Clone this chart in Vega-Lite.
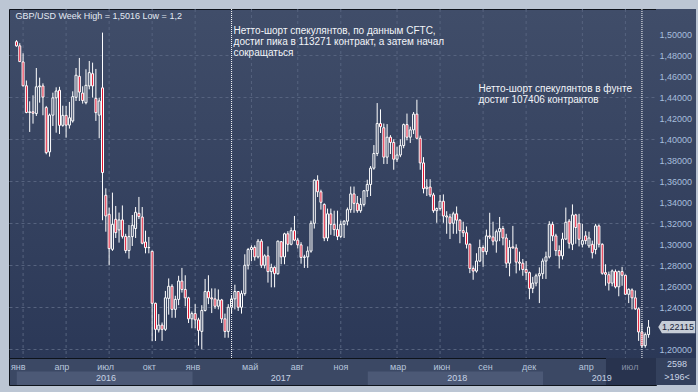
{
"$schema": "https://vega.github.io/schema/vega-lite/v6.json",
"background": "#bcc6d4",
"padding": {"left": 8, "top": 8, "right": 3, "bottom": 8},
"autosize": {"type": "pad"},
"config": {
  "font": "Liberation Sans",
  "locale": {"number": {"decimal": ",", "thousands": " ", "grouping": [3], "currency": ["", ""]}},
  "view": {"stroke": null},
  "axis": {"labelFont": "Liberation Sans"}
},
"datasets": {
  "candles": [
{"date":"2015-12-21","open":1.4930,"high":1.4945,"low":1.4882,"close":1.4890},
{"date":"2015-12-28","open":1.4890,"high":1.4915,"low":1.4737,"close":1.4740},
{"date":"2016-01-04","open":1.4737,"high":1.4819,"low":1.4502,"close":1.4510},
{"date":"2016-01-11","open":1.4510,"high":1.4560,"low":1.4248,"close":1.4255},
{"date":"2016-01-18","open":1.4255,"high":1.4362,"low":1.4070,"close":1.4262},
{"date":"2016-01-25","open":1.4262,"high":1.4419,"low":1.4149,"close":1.4248},
{"date":"2016-02-01","open":1.4245,"high":1.4679,"low":1.4222,"close":1.4500},
{"date":"2016-02-08","open":1.4500,"high":1.4587,"low":1.4349,"close":1.4508},
{"date":"2016-02-15","open":1.4508,"high":1.4533,"low":1.4229,"close":1.4402},
{"date":"2016-02-22","open":1.4302,"high":1.4318,"low":1.3857,"close":1.3873},
{"date":"2016-02-29","open":1.3880,"high":1.4245,"low":1.3835,"close":1.4230},
{"date":"2016-03-07","open":1.4230,"high":1.4444,"low":1.4127,"close":1.4395},
{"date":"2016-03-14","open":1.4395,"high":1.4495,"low":1.4063,"close":1.4460},
{"date":"2016-03-21","open":1.4467,"high":1.4500,"low":1.4050,"close":1.4133},
{"date":"2016-03-28","open":1.4133,"high":1.4320,"low":1.4120,"close":1.4228},
{"date":"2016-04-04","open":1.4228,"high":1.4317,"low":1.4016,"close":1.4135},
{"date":"2016-04-11","open":1.4135,"high":1.4356,"low":1.4102,"close":1.4205},
{"date":"2016-04-18","open":1.4175,"high":1.4457,"low":1.4159,"close":1.4406},
{"date":"2016-04-25","open":1.4400,"high":1.4679,"low":1.4365,"close":1.4610},
{"date":"2016-05-02","open":1.4600,"high":1.4775,"low":1.4365,"close":1.4450},
{"date":"2016-05-09","open":1.4440,"high":1.4505,"low":1.4340,"close":1.4370},
{"date":"2016-05-16","open":1.4349,"high":1.4667,"low":1.4333,"close":1.4514},
{"date":"2016-05-23","open":1.4508,"high":1.4746,"low":1.4476,"close":1.4635},
{"date":"2016-05-30","open":1.4625,"high":1.4730,"low":1.4397,"close":1.4508},
{"date":"2016-06-06","open":1.4390,"high":1.4670,"low":1.4175,"close":1.4254},
{"date":"2016-06-13","open":1.4230,"high":1.4396,"low":1.4010,"close":1.4365},
{"date":"2016-06-20","open":1.4490,"high":1.5016,"low":1.3229,"close":1.3683},
{"date":"2016-06-27","open":1.3467,"high":1.3533,"low":1.3120,"close":1.3270},
{"date":"2016-07-04","open":1.3286,"high":1.3349,"low":1.2800,"close":1.2959},
{"date":"2016-07-11","open":1.2952,"high":1.3492,"low":1.2937,"close":1.3190},
{"date":"2016-07-18","open":1.3238,"high":1.3365,"low":1.3060,"close":1.3111},
{"date":"2016-07-25","open":1.3137,"high":1.3302,"low":1.3016,"close":1.3232},
{"date":"2016-08-01","open":1.3232,"high":1.3370,"low":1.3055,"close":1.3075},
{"date":"2016-08-08","open":1.3075,"high":1.3100,"low":1.2915,"close":1.2940},
{"date":"2016-08-15","open":1.2940,"high":1.3184,"low":1.2863,"close":1.3073},
{"date":"2016-08-22","open":1.3073,"high":1.3279,"low":1.2984,"close":1.3181},
{"date":"2016-08-29","open":1.3150,"high":1.3355,"low":1.3060,"close":1.3305},
{"date":"2016-09-05","open":1.3295,"high":1.3451,"low":1.3240,"close":1.3264},
{"date":"2016-09-12","open":1.3260,"high":1.3355,"low":1.3000,"close":1.3010},
{"date":"2016-09-19","open":1.3022,"high":1.3130,"low":1.2914,"close":1.2968},
{"date":"2016-09-26","open":1.2968,"high":1.3070,"low":1.2914,"close":1.2970},
{"date":"2016-10-03","open":1.2933,"high":1.2940,"low":1.2079,"close":1.2438},
{"date":"2016-10-10","open":1.2438,"high":1.2444,"low":1.2079,"close":1.2190},
{"date":"2016-10-17","open":1.2185,"high":1.2335,"low":1.2160,"close":1.2230},
{"date":"2016-10-24","open":1.2230,"high":1.2255,"low":1.2080,"close":1.2190},
{"date":"2016-10-31","open":1.2190,"high":1.2556,"low":1.2175,"close":1.2490},
{"date":"2016-11-07","open":1.2485,"high":1.2675,"low":1.2330,"close":1.2600},
{"date":"2016-11-14","open":1.2600,"high":1.2620,"low":1.2300,"close":1.2380},
{"date":"2016-11-21","open":1.2380,"high":1.2510,"low":1.2300,"close":1.2475},
{"date":"2016-11-28","open":1.2475,"high":1.2700,"low":1.2420,"close":1.2650},
{"date":"2016-12-05","open":1.2650,"high":1.2775,"low":1.2540,"close":1.2570},
{"date":"2016-12-12","open":1.2570,"high":1.2705,"low":1.2410,"close":1.2490},
{"date":"2016-12-19","open":1.2490,"high":1.2500,"low":1.2250,"close":1.2290},
{"date":"2016-12-26","open":1.2290,"high":1.2360,"low":1.2200,"close":1.2340},
{"date":"2017-01-02","open":1.2340,"high":1.2430,"low":1.2200,"close":1.2280},
{"date":"2017-01-09","open":1.2280,"high":1.2300,"low":1.2035,"close":1.2180},
{"date":"2017-01-16","open":1.2170,"high":1.2420,"low":1.2000,"close":1.2370},
{"date":"2017-01-23","open":1.2370,"high":1.2670,"low":1.2360,"close":1.2550},
{"date":"2017-01-30","open":1.2550,"high":1.2705,"low":1.2430,"close":1.2490},
{"date":"2017-02-06","open":1.2490,"high":1.2580,"low":1.2345,"close":1.2480},
{"date":"2017-02-13","open":1.2480,"high":1.2580,"low":1.2385,"close":1.2410},
{"date":"2017-02-20","open":1.2410,"high":1.2570,"low":1.2380,"close":1.2470},
{"date":"2017-02-27","open":1.2470,"high":1.2480,"low":1.2250,"close":1.2290},
{"date":"2017-03-06","open":1.2290,"high":1.2340,"low":1.2110,"close":1.2170},
{"date":"2017-03-13","open":1.2170,"high":1.2430,"low":1.2110,"close":1.2400},
{"date":"2017-03-20","open":1.2400,"high":1.2510,"low":1.2340,"close":1.2480},
{"date":"2017-03-27","open":1.2480,"high":1.2615,"low":1.2380,"close":1.2550},
{"date":"2017-04-03","open":1.2550,"high":1.2555,"low":1.2365,"close":1.2400},
{"date":"2017-04-10","open":1.2400,"high":1.2560,"low":1.2340,"close":1.2530},
{"date":"2017-04-17","open":1.2530,"high":1.2905,"low":1.2510,"close":1.2800},
{"date":"2017-04-24","open":1.2800,"high":1.2965,"low":1.2760,"close":1.2950},
{"date":"2017-05-01","open":1.2950,"high":1.2990,"low":1.2840,"close":1.2970},
{"date":"2017-05-08","open":1.2970,"high":1.2990,"low":1.2845,"close":1.2880},
{"date":"2017-05-15","open":1.2880,"high":1.3050,"low":1.2865,"close":1.3030},
{"date":"2017-05-22","open":1.3030,"high":1.3050,"low":1.2775,"close":1.2800},
{"date":"2017-05-29","open":1.2800,"high":1.2905,"low":1.2770,"close":1.2890},
{"date":"2017-06-05","open":1.2890,"high":1.2980,"low":1.2635,"close":1.2740},
{"date":"2017-06-12","open":1.2740,"high":1.2815,"low":1.2590,"close":1.2780},
{"date":"2017-06-19","open":1.2780,"high":1.2790,"low":1.2590,"close":1.2720},
{"date":"2017-06-26","open":1.2720,"high":1.3035,"low":1.2710,"close":1.3030},
{"date":"2017-07-03","open":1.3025,"high":1.3030,"low":1.2810,"close":1.2880},
{"date":"2017-07-10","open":1.2880,"high":1.3110,"low":1.2810,"close":1.3100},
{"date":"2017-07-17","open":1.3100,"high":1.3125,"low":1.2930,"close":1.3000},
{"date":"2017-07-24","open":1.3000,"high":1.3160,"low":1.2990,"close":1.3130},
{"date":"2017-07-31","open":1.3130,"high":1.3270,"low":1.3030,"close":1.3040},
{"date":"2017-08-07","open":1.3040,"high":1.3060,"low":1.2960,"close":1.2995},
{"date":"2017-08-14","open":1.2995,"high":1.3020,"low":1.2815,"close":1.2875},
{"date":"2017-08-21","open":1.2875,"high":1.2900,"low":1.2775,"close":1.2880},
{"date":"2017-08-28","open":1.2880,"high":1.2980,"low":1.2775,"close":1.2935},
{"date":"2017-09-04","open":1.2935,"high":1.3225,"low":1.2920,"close":1.3200},
{"date":"2017-09-11","open":1.3200,"high":1.3620,"low":1.3150,"close":1.3610},
{"date":"2017-09-18","open":1.3610,"high":1.3657,"low":1.3450,"close":1.3500},
{"date":"2017-09-25","open":1.3500,"high":1.3520,"low":1.3330,"close":1.3400},
{"date":"2017-10-02","open":1.3380,"high":1.3390,"low":1.3030,"close":1.3060},
{"date":"2017-10-09","open":1.3060,"high":1.3340,"low":1.3030,"close":1.3290},
{"date":"2017-10-16","open":1.3290,"high":1.3340,"low":1.3090,"close":1.3190},
{"date":"2017-10-23","open":1.3190,"high":1.3320,"low":1.3080,"close":1.3140},
{"date":"2017-10-30","open":1.3140,"high":1.3320,"low":1.3040,"close":1.3075},
{"date":"2017-11-06","open":1.3075,"high":1.3225,"low":1.3060,"close":1.3190},
{"date":"2017-11-13","open":1.3190,"high":1.3230,"low":1.3060,"close":1.3220},
{"date":"2017-11-20","open":1.3220,"high":1.3350,"low":1.3180,"close":1.3330},
{"date":"2017-11-27","open":1.3330,"high":1.3550,"low":1.3300,"close":1.3480},
{"date":"2017-12-04","open":1.3480,"high":1.3550,"low":1.3300,"close":1.3390},
{"date":"2017-12-11","open":1.3390,"high":1.3460,"low":1.3300,"close":1.3320},
{"date":"2017-12-18","open":1.3320,"high":1.3440,"low":1.3300,"close":1.3380},
{"date":"2017-12-25","open":1.3380,"high":1.3515,"low":1.3360,"close":1.3510},
{"date":"2018-01-01","open":1.3510,"high":1.3615,"low":1.3450,"close":1.3570},
{"date":"2018-01-08","open":1.3570,"high":1.3745,"low":1.3460,"close":1.3725},
{"date":"2018-01-15","open":1.3725,"high":1.3945,"low":1.3710,"close":1.3865},
{"date":"2018-01-22","open":1.3865,"high":1.4345,"low":1.3840,"close":1.4150},
{"date":"2018-01-29","open":1.4150,"high":1.4285,"low":1.4060,"close":1.4120},
{"date":"2018-02-05","open":1.4110,"high":1.4150,"low":1.3765,"close":1.3830},
{"date":"2018-02-12","open":1.3830,"high":1.4145,"low":1.3765,"close":1.4020},
{"date":"2018-02-19","open":1.4020,"high":1.4040,"low":1.3860,"close":1.3970},
{"date":"2018-02-26","open":1.3970,"high":1.4000,"low":1.3710,"close":1.3810},
{"date":"2018-03-05","open":1.3810,"high":1.3930,"low":1.3785,"close":1.3850},
{"date":"2018-03-12","open":1.3850,"high":1.4000,"low":1.3830,"close":1.3940},
{"date":"2018-03-19","open":1.3940,"high":1.4150,"low":1.3915,"close":1.4140},
{"date":"2018-03-26","open":1.4140,"high":1.4245,"low":1.3990,"close":1.4020},
{"date":"2018-04-02","open":1.4020,"high":1.4120,"low":1.3965,"close":1.4090},
{"date":"2018-04-09","open":1.4090,"high":1.4260,"low":1.4050,"close":1.4240},
{"date":"2018-04-16","open":1.4240,"high":1.4377,"low":1.4000,"close":1.4010},
{"date":"2018-04-23","open":1.4010,"high":1.4035,"low":1.3710,"close":1.3775},
{"date":"2018-04-30","open":1.3775,"high":1.3830,"low":1.3485,"close":1.3530},
{"date":"2018-05-07","open":1.3530,"high":1.3620,"low":1.3460,"close":1.3545},
{"date":"2018-05-14","open":1.3545,"high":1.3620,"low":1.3450,"close":1.3470},
{"date":"2018-05-21","open":1.3470,"high":1.3490,"low":1.3300,"close":1.3320},
{"date":"2018-05-28","open":1.3320,"high":1.3350,"low":1.3205,"close":1.3340},
{"date":"2018-06-04","open":1.3340,"high":1.3470,"low":1.3320,"close":1.3410},
{"date":"2018-06-11","open":1.3410,"high":1.3475,"low":1.3205,"close":1.3270},
{"date":"2018-06-18","open":1.3270,"high":1.3315,"low":1.3100,"close":1.3260},
{"date":"2018-06-25","open":1.3260,"high":1.3290,"low":1.3050,"close":1.3200},
{"date":"2018-07-02","open":1.3200,"high":1.3310,"low":1.3100,"close":1.3290},
{"date":"2018-07-09","open":1.3290,"high":1.3360,"low":1.3100,"close":1.3230},
{"date":"2018-07-16","open":1.3230,"high":1.3240,"low":1.3010,"close":1.3130},
{"date":"2018-07-23","open":1.3130,"high":1.3215,"low":1.3070,"close":1.3110},
{"date":"2018-07-30","open":1.3110,"high":1.3170,"low":1.2960,"close":1.3000},
{"date":"2018-08-06","open":1.3000,"high":1.3010,"low":1.2725,"close":1.2770},
{"date":"2018-08-13","open":1.2770,"high":1.2790,"low":1.2662,"close":1.2745},
{"date":"2018-08-20","open":1.2745,"high":1.2915,"low":1.2730,"close":1.2840},
{"date":"2018-08-27","open":1.2840,"high":1.3045,"low":1.2830,"close":1.2970},
{"date":"2018-09-03","open":1.2970,"high":1.2990,"low":1.2785,"close":1.2930},
{"date":"2018-09-10","open":1.2930,"high":1.3140,"low":1.2900,"close":1.3080},
{"date":"2018-09-17","open":1.3080,"high":1.3300,"low":1.3050,"close":1.3070},
{"date":"2018-09-24","open":1.3070,"high":1.3215,"low":1.2990,"close":1.3030},
{"date":"2018-10-01","open":1.3030,"high":1.3140,"low":1.2920,"close":1.3120},
{"date":"2018-10-08","open":1.3120,"high":1.3260,"low":1.3030,"close":1.3150},
{"date":"2018-10-15","open":1.3150,"high":1.3175,"low":1.2990,"close":1.3060},
{"date":"2018-10-22","open":1.3060,"high":1.3100,"low":1.2775,"close":1.2820},
{"date":"2018-10-29","open":1.2820,"high":1.3040,"low":1.2695,"close":1.2970},
{"date":"2018-11-05","open":1.2975,"high":1.3175,"low":1.2960,"close":1.2965},
{"date":"2018-11-12","open":1.2965,"high":1.3000,"low":1.2723,"close":1.2830},
{"date":"2018-11-19","open":1.2830,"high":1.2930,"low":1.2750,"close":1.2820},
{"date":"2018-11-26","open":1.2820,"high":1.2860,"low":1.2700,"close":1.2760},
{"date":"2018-12-03","open":1.2760,"high":1.2840,"low":1.2660,"close":1.2730},
{"date":"2018-12-10","open":1.2730,"high":1.2740,"low":1.2477,"close":1.2580},
{"date":"2018-12-17","open":1.2580,"high":1.2690,"low":1.2535,"close":1.2630},
{"date":"2018-12-24","open":1.2630,"high":1.2720,"low":1.2600,"close":1.2700},
{"date":"2018-12-31","open":1.2700,"high":1.2780,"low":1.2440,"close":1.2720},
{"date":"2019-01-07","open":1.2720,"high":1.2865,"low":1.2670,"close":1.2840},
{"date":"2019-01-14","open":1.2840,"high":1.2930,"low":1.2670,"close":1.2880},
{"date":"2019-01-21","open":1.2880,"high":1.3220,"low":1.2865,"close":1.3190},
{"date":"2019-01-28","open":1.3190,"high":1.3215,"low":1.3030,"close":1.3080},
{"date":"2019-02-04","open":1.3080,"high":1.3100,"low":1.2890,"close":1.2940},
{"date":"2019-02-11","open":1.2940,"high":1.2990,"low":1.2770,"close":1.2890},
{"date":"2019-02-18","open":1.2890,"high":1.3110,"low":1.2855,"close":1.3050},
{"date":"2019-02-25","open":1.3050,"high":1.3350,"low":1.3040,"close":1.3210},
{"date":"2019-03-04","open":1.3220,"high":1.3240,"low":1.2960,"close":1.3010},
{"date":"2019-03-11","open":1.3000,"high":1.3380,"low":1.2945,"close":1.3280},
{"date":"2019-03-18","open":1.3280,"high":1.3290,"low":1.3005,"close":1.3160},
{"date":"2019-03-25","open":1.3200,"high":1.3290,"low":1.2980,"close":1.3048},
{"date":"2019-04-01","open":1.3000,"high":1.3195,"low":1.2970,"close":1.3035},
{"date":"2019-04-08","open":1.3080,"high":1.3125,"low":1.3000,"close":1.3035},
{"date":"2019-04-15","open":1.2985,"high":1.3120,"low":1.2965,"close":1.3060},
{"date":"2019-04-22","open":1.3000,"high":1.3035,"low":1.2865,"close":1.2920},
{"date":"2019-04-29","open":1.2950,"high":1.3195,"low":1.2905,"close":1.3175},
{"date":"2019-05-06","open":1.3175,"high":1.3190,"low":1.2970,"close":1.3000},
{"date":"2019-05-13","open":1.3000,"high":1.3010,"low":1.2710,"close":1.2724},
{"date":"2019-05-20","open":1.2730,"high":1.2810,"low":1.2605,"close":1.2714},
{"date":"2019-05-27","open":1.2710,"high":1.2740,"low":1.2560,"close":1.2630},
{"date":"2019-06-03","open":1.2630,"high":1.2760,"low":1.2600,"close":1.2746},
{"date":"2019-06-10","open":1.2740,"high":1.2760,"low":1.2580,"close":1.2595},
{"date":"2019-06-17","open":1.2595,"high":1.2750,"low":1.2505,"close":1.2740},
{"date":"2019-06-24","open":1.2740,"high":1.2785,"low":1.2605,"close":1.2705},
{"date":"2019-07-01","open":1.2705,"high":1.2710,"low":1.2520,"close":1.2524},
{"date":"2019-07-08","open":1.2524,"high":1.2580,"low":1.2440,"close":1.2571},
{"date":"2019-07-15","open":1.2565,"high":1.2580,"low":1.2380,"close":1.2490},
{"date":"2019-07-22","open":1.2490,"high":1.2560,"low":1.2375,"close":1.2385},
{"date":"2019-07-29","open":1.2385,"high":1.2400,"low":1.2080,"close":1.2165},
{"date":"2019-08-05","open":1.2165,"high":1.2250,"low":1.2015,"close":1.2032},
{"date":"2019-08-12","open":1.2035,"high":1.2160,"low":1.2015,"close":1.2140},
{"date":"2019-08-19","open":1.2140,"high":1.2279,"low":1.2110,"close":1.22115}
  ],
  "ticks": [
    {"date":"2016-01-04","label":"янв"},{"date":"2016-04-04","label":"апр"},{"date":"2016-07-04","label":"июл"},{"date":"2016-10-03","label":"окт"},
    {"date":"2017-01-02","label":"янв"},{"date":"2017-05-01","label":"май"},{"date":"2017-08-07","label":"авг"},{"date":"2017-11-06","label":"ноя"},
    {"date":"2018-03-05","label":"мар"},{"date":"2018-06-04","label":"июн"},{"date":"2018-09-03","label":"сен"},{"date":"2018-12-03","label":"дек"},
    {"date":"2019-04-01","label":"апр"},{"date":"2019-07-01","label":"июл"}
  ],
  "years": [
    {"year":2016,"start":"2016-01-01","end":"2017-01-01"},
    {"year":2017,"start":"2017-01-01","end":"2018-01-01"},
    {"year":2018,"start":"2018-01-01","end":"2019-01-01"},
    {"year":2019,"start":"2019-01-01","end":"2019-08-24"}
  ],
  "events": [
    {"date":"2017-03-20","contracts":113271,"note":"Нетто-шорт спекулянтов, по данным CFTC,\nдостиг пика в 113271 контракт, а затем начал\nсокращаться"},
    {"date":"2019-08-05","contracts":107406,"note":"Нетто-шорт спекулянтов в фунте\nдостиг 107406 контрактов"}
  ],
  "quote": [{"symbol":"GBP/USD","caption":"GBP/USD Week High = 1,5016 Low = 1,2","last":1.22115}],
  "counts": [{"row":"total","label":"2598"},{"row":"visible","label":">196<"}]
},
"columns": 2,
"spacing": 0,
"bounds": "flush",
"resolve": {"scale": {"x": "independent", "y": "independent"}},
"concat": [
  {
    "width": 647, "height": 349,
    "view": {"fill": {"gradient":"linear","x1":0,"y1":0,"x2":0,"y2":1,"stops":[{"offset":0,"color":"#404d69"},{"offset":1,"color":"#2b3857"}]}, "stroke": "#0e131b"},
    "layer": [
      {"data":{"name":"ticks"},
       "mark":{"type":"rule","color":"#56637f","strokeDash":[3,3],"strokeWidth":1},
       "encoding":{"x":{"field":"date","type":"temporal","axis":null,
          "scale":{"domain":[{"year":2015,"month":12,"date":15,"hours":19,"utc":true},{"year":2019,"month":8,"date":24,"hours":4,"utc":true}],"nice":false}}}},
      {"data":{"name":"candles"},
       "mark":{"type":"rule","color":"#ffffff","strokeWidth":1},
       "encoding":{
         "x":{"field":"date","type":"temporal","axis":null},
         "y":{"field":"low","type":"quantitative","scale":{"domain":[1.1917,1.5241],"nice":false,"zero":false},
              "axis":{"values":[1.2,1.22,1.24,1.26,1.28,1.3,1.32,1.34,1.36,1.38,1.4,1.42,1.44,1.46,1.48,1.5],"labels":false,"ticks":false,"domain":false,"grid":true,"gridColor":"#56637f","gridDash":[3,3],"title":null}},
         "y2":{"field":"high"}}},
      {"data":{"name":"candles"},
       "mark":{"type":"bar","width":2,"stroke":"#ffffff","strokeWidth":1},
       "encoding":{
         "x":{"field":"date","type":"temporal","axis":null},
         "y":{"field":"open","type":"quantitative"},
         "y2":{"field":"close"},
         "fill":{"condition":{"test":"datum.close < datum.open","value":"#e3112d"},"value":"#303d5b"}}},
      {"data":{"name":"events"},
       "mark":{"type":"rule","color":"#ffffff","strokeDash":[1,1],"strokeWidth":1},
       "encoding":{"x":{"field":"date","type":"temporal","axis":null}}},
      {"data":{"name":"events"},
       "transform":[{"filter":{"field":"contracts","equal":113271}}],
       "mark":{"type":"text","align":"left","baseline":"top","dx":2,"fontSize":10,"lineHeight":11,"lineBreak":"\n","color":"#f3f5f9"},
       "encoding":{"x":{"field":"date","type":"temporal","axis":null},"y":{"datum":1.5076,"type":"quantitative"},"text":{"field":"note","type":"nominal"}}},
      {"data":{"name":"events"},
       "transform":[{"filter":{"field":"contracts","equal":107406}}],
       "mark":{"type":"text","align":"left","baseline":"top","dx":-163.5,"fontSize":10,"lineHeight":11,"lineBreak":"\n","color":"#f3f5f9"},
       "encoding":{"x":{"field":"date","type":"temporal","axis":null},"y":{"datum":1.4524,"type":"quantitative"},"text":{"field":"note","type":"nominal"}}},
      {"data":{"name":"quote"},
       "mark":{"type":"text","align":"left","baseline":"alphabetic","dx":-1,"fontSize":9,"color":"#e3e9f2"},
       "encoding":{"x":{"datum":{"year":2015,"month":12,"date":21,"utc":true},"type":"temporal","axis":null},"y":{"datum":1.5143,"type":"quantitative"},"text":{"field":"caption","type":"nominal"}}}
    ]
  },
  {
    "width": 40, "height": 349,
    "view": {"fill": {"gradient":"linear","x1":0,"y1":0,"x2":0,"y2":1,"stops":[{"offset":0,"color":"#404d69"},{"offset":1,"color":"#2b3857"}]}, "stroke": null},
    "data": {"name": "quote"},
    "encoding": {
      "y": {"field":"last","type":"quantitative","scale":{"domain":[1.1917,1.5241],"nice":false,"zero":false},
            "axis":{"orient":"left","values":[1.2,1.24,1.26,1.28,1.3,1.32,1.34,1.36,1.38,1.4,1.42,1.44,1.46,1.48,1.5],"format":".5f","labelAlign":"left","labelBaseline":"middle","labelPadding":-3,"ticks":false,"tickSize":0,"domain":false,"grid":false,"title":null,"labelColor":"#a7bedd","labelFontSize":9,"labelOverlap":false,"labelFlush":false}}
    },
    "layer": [
      {"mark":{"type":"point","shape":"M-0.96,0L-0.76,-0.33L1.04,-0.33L1.04,0.33L-0.76,0.33Z","size":1369,"filled":true,"color":"#c6cdd7","opacity":1,"strokeWidth":0}},
      {"mark":{"type":"text","align":"center","baseline":"middle","dx":2,"fontSize":9,"color":"#17223a"},
       "encoding":{"text":{"field":"last","type":"quantitative","format":".5f"}}}
    ]
  },
  {
    "width": 647, "height": 27,
    "view": {"fill": "#3b4864", "stroke": "#0e131b"},
    "layer": [
      {"data":{"name":"years"},
       "transform":[{"filter":"datum.year % 2 == 0"}],
       "mark":{"type":"rect","color":"#4c5976"},
       "encoding":{
         "x":{"field":"start","type":"temporal","axis":null,
              "scale":{"domain":[{"year":2015,"month":12,"date":15,"hours":19,"utc":true},{"year":2019,"month":8,"date":24,"hours":4,"utc":true}],"nice":false}},
         "x2":{"field":"end"},
         "y":{"datum":"year","type":"nominal","scale":{"type":"band","domain":["month","year"],"paddingInner":0,"paddingOuter":0},"axis":null}}},
      {"data":{"values":[{}]},
       "mark":{"type":"rect","color":"#28334e"},
       "encoding":{
         "x":{"datum":{"year":2019,"month":5,"date":12,"utc":true},"type":"temporal","axis":null},
         "x2":{"datum":{"year":2019,"month":8,"date":24,"hours":4,"utc":true}}}},
      {"data":{"name":"ticks"},
       "mark":{"type":"text","fontSize":9,"baseline":"middle","dy":2},
       "encoding":{
         "x":{"field":"date","type":"temporal","axis":null},
         "y":{"datum":"month","type":"nominal"},
         "text":{"field":"label","type":"nominal"},
         "color":{"condition":{"test":"datum.date > datetime(2019,4,10)","value":"#858fa5"},"value":"#b7c6dc"}}},
      {"data":{"name":"candles"},
       "transform":[
         {"timeUnit":"year","field":"date","as":"yr"},
         {"filter":"year(datum.yr) >= 2016"},
         {"aggregate":[{"op":"mean","field":"date","as":"mid"}],"groupby":["yr"]}
       ],
       "mark":{"type":"text","fontSize":9,"baseline":"middle","dx":2,"color":"#c7d3e5"},
       "encoding":{
         "x":{"field":"mid","type":"temporal","axis":null},
         "y":{"datum":"year","type":"nominal"},
         "text":{"field":"yr","type":"temporal","format":"%Y"}}}
    ]
  },
  {
    "width": 40, "height": 27,
    "view": {"fill": "#34415d", "stroke": null},
    "data": {"name": "counts"},
    "mark": {"type":"text","fontSize":9,"color":"#cbd5e5","baseline":"middle","dx":1,"dy":-1},
    "encoding": {
      "y":{"field":"row","type":"nominal","scale":{"type":"band","domain":["total","visible"],"paddingInner":0,"paddingOuter":0},"axis":null},
      "text":{"field":"label","type":"nominal"}
    }
  }
]
}
